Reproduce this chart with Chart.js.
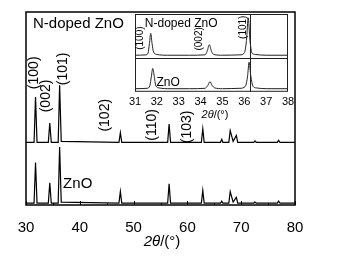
<!DOCTYPE html>
<html>
<head>
<meta charset="utf-8">
<script src="https://cdn.jsdelivr.net/npm/chart.js@4.4.1/dist/chart.umd.min.js"></script>
<style>
  html, body { margin: 0; padding: 0; background: #fff; }
  #wrap { position: relative; width: 337px; height: 259px; }
  #main { position: absolute; left: 0; top: 0; }
  #inset { position: absolute; left: 120px; top: 6px; }
</style>
</head>
<body>
<div id="wrap">
  <canvas id="main" width="337" height="259"></canvas>
  <canvas id="inset" width="185" height="118"></canvas>
</div>
<script>
// ---- main pattern: 2theta (deg) and offset intensities ----
var mainTheta = [30, 31.5, 31.77, 32.05, 34.15, 34.42, 34.7, 35.98, 36.25, 36.55,
  47.28, 47.54, 47.8, 56.33, 56.6, 56.87, 62.6, 62.86, 63.12, 66.15, 66.38, 66.6,
  67.7, 67.96, 68.5, 69.1, 69.35, 72.35, 72.56, 72.8, 76.7, 76.95, 77.2, 80];
var dopedMain = [32.5, 32.5, 56, 32.5, 32.5, 42.5, 32.5, 32.5, 62, 33,
  32.5, 37.5, 32.5, 32.5, 42, 32.5, 32.5, 39.5, 32.5, 32.5, 34, 32.5,
  32.5, 38.5, 33, 36, 32.5, 32.5, 33.2, 32.5, 32.5, 33.5, 32.5, 32.5];
var pureMain = [1, 1, 22, 1, 1, 11.5, 1, 1, 30, 1.5,
  1, 7, 1, 1, 11, 1, 1, 7.5, 1, 1, 2, 1,
  1, 7, 1.5, 4, 1, 1, 1.5, 1, 1, 2, 1, 1];
var mainTicks = [30, 40, 50, 60, 70, 80];

// ---- inset (31-38 deg) ----
var dopedInsetTheta = [31, 31.5, 31.6, 31.66, 31.72, 31.78, 31.85, 32.0, 32.5, 33.5,
  34.2, 34.3, 34.4, 34.5, 34.6, 35.0, 35.8, 36.0, 36.1, 36.18, 36.26, 36.35, 36.5, 37, 38];
var dopedInset = [47, 47.5, 50, 62, 75, 62, 51, 48, 47, 47,
  47.5, 52, 60.5, 52, 48, 47, 47.5, 50, 66, 95, 66, 50, 48, 47, 47];
var pureInsetTheta = [31, 31.55, 31.68, 31.75, 31.81, 31.88, 31.95, 32.1, 32.6, 33.5,
  34.2, 34.33, 34.43, 34.53, 34.65, 35.0, 35.8, 36.05, 36.15, 36.22, 36.3, 36.4, 36.55, 37, 38];
var pureInset = [4, 4.5, 8, 20, 30, 20, 8, 5, 4, 4,
  4.5, 8, 13, 8, 5, 4, 4.5, 7, 20, 38, 20, 7, 5, 4, 4];
var insetTicks = [31, 32, 33, 34, 35, 36, 37, 38];
var insetRefLine = 36.26;
var insetSplit = 43.4;

var FONT = "'Liberation Sans', Arial, sans-serif";

function pts(xs, ys) {
  return xs.map(function (x, i) { return { x: x, y: ys[i] }; });
}

function drawAxisTitle(ctx, cx, y, size) {
  var a = "2\u03B8", b = "/(\u00B0)";
  ctx.font = "italic " + size + "px " + FONT;
  var wa = ctx.measureText(a).width;
  ctx.font = size + "px " + FONT;
  var wb = ctx.measureText(b).width;
  var x0 = cx - (wa + wb) / 2;
  ctx.textAlign = "left";
  ctx.textBaseline = "middle";
  ctx.font = "italic " + size + "px " + FONT;
  ctx.fillText(a, x0, y);
  ctx.font = size + "px " + FONT;
  ctx.fillText(b, x0 + wa, y);
}

function vText(ctx, text, x, y) {
  ctx.save();
  ctx.translate(x, y);
  ctx.rotate(-Math.PI / 2);
  ctx.textAlign = "center";
  ctx.textBaseline = "middle";
  ctx.fillText(text, 0, 0);
  ctx.restore();
}

// Frame, inward ticks, labels for main chart
var mainDecor = {
  id: "mainDecor",
  afterDatasetsDraw: function (chart) {
    var ctx = chart.ctx, a = chart.chartArea;
    var xs = chart.scales.x, ys = chart.scales.y;
    ctx.save();
    ctx.strokeStyle = "#000";
    ctx.lineWidth = 1.5;
    ctx.strokeRect(a.left, a.top, a.right - a.left, a.bottom - a.top);
    ctx.lineWidth = 1;
    for (var v = 30; v <= 80; v += 5) {
      var px = Math.round(xs.getPixelForValue(v)) + 0.5;
      var len = v % 10 === 0 ? 4 : 2;
      ctx.beginPath();
      ctx.moveTo(px, a.bottom);
      ctx.lineTo(px, a.bottom - len);
      ctx.stroke();
    }
    ctx.fillStyle = "#000";
    ctx.font = "15px " + FONT;
    ctx.textAlign = "left";
    ctx.textBaseline = "middle";
    ctx.fillText("N-doped ZnO", xs.getPixelForValue(31.3), ys.getPixelForValue(94));
    ctx.fillText("ZnO", xs.getPixelForValue(36.9), ys.getPixelForValue(11));
    ctx.font = "14px " + FONT;
    var labels = [["(100)", 31.5, 68.5], ["(002)", 33.7, 56.5], ["(101)", 36.9, 70.5],
      ["(102)", 44.7, 46.5], ["(110)", 53.4, 41.5], ["(103)", 59.9, 40.5]];
    labels.forEach(function (l) {
      vText(ctx, l[0], xs.getPixelForValue(l[1]), ys.getPixelForValue(l[2]));
    });
    drawAxisTitle(ctx, 162, 242, 15);
    ctx.restore();
  }
};

var insetDecor = {
  id: "insetDecor",
  beforeDatasetsDraw: function (chart) {
    var ctx = chart.ctx, a = chart.chartArea;
    ctx.save();
    ctx.fillStyle = "#fff";
    ctx.fillRect(a.left, a.top, a.right - a.left, a.bottom - a.top);
    ctx.restore();
  },
  afterDatasetsDraw: function (chart) {
    var ctx = chart.ctx, a = chart.chartArea;
    var xs = chart.scales.x, ys = chart.scales.y;
    ctx.save();
    ctx.strokeStyle = "#222";
    ctx.lineWidth = 1;
    ctx.strokeRect(a.left + 0.5, a.top + 0.5, a.right - a.left - 1, a.bottom - a.top - 1);
    var sy = Math.round(ys.getPixelForValue(insetSplit)) + 0.5;
    ctx.beginPath();
    ctx.moveTo(a.left, sy);
    ctx.lineTo(a.right, sy);
    var rx = Math.round(xs.getPixelForValue(insetRefLine)) + 0.5;
    ctx.moveTo(rx, a.top);
    ctx.lineTo(rx, a.bottom);
    ctx.stroke();
    ctx.fillStyle = "#000";
    ctx.font = "12px " + FONT;
    ctx.textAlign = "left";
    ctx.textBaseline = "middle";
    ctx.fillText("N-doped ZnO", xs.getPixelForValue(31.45), ys.getPixelForValue(88));
    ctx.fillText("ZnO", xs.getPixelForValue(31.98), ys.getPixelForValue(12));
    ctx.font = "10px " + FONT;
    vText(ctx, "(100)", xs.getPixelForValue(31.22), ys.getPixelForValue(69));
    vText(ctx, "(002)", xs.getPixelForValue(33.93), ys.getPixelForValue(68));
    vText(ctx, "(101)", xs.getPixelForValue(35.93), ys.getPixelForValue(83));
    drawAxisTitle(ctx, 95, 109, 11);
    ctx.restore();
  }
};

new Chart(document.getElementById("main"), {
  type: "line",
  data: {
    datasets: [
      { data: pts(mainTheta, dopedMain), borderColor: "#000", borderWidth: 1.2, pointRadius: 0, tension: 0 },
      { data: pts(mainTheta, pureMain), borderColor: "#000", borderWidth: 1.2, pointRadius: 0, tension: 0 }
    ]
  },
  options: {
    responsive: false,
    animation: false,
    events: [],
    layout: { padding: { left: 26, right: 42, top: 12, bottom: 8 } },
    plugins: { legend: { display: false }, tooltip: { enabled: false } },
    scales: {
      x: {
        type: "linear",
        min: 30,
        max: 80,
        afterBuildTicks: function (s) { s.ticks = mainTicks.map(function (v) { return { value: v }; }); },
        grid: { display: false, drawTicks: false },
        border: { display: false },
        ticks: { color: "#000", font: { family: FONT, size: 15 }, padding: 14, maxRotation: 0 }
      },
      y: { display: false, min: 0, max: 100 }
    }
  },
  plugins: [mainDecor]
});

new Chart(document.getElementById("inset"), {
  type: "line",
  data: {
    datasets: [
      { data: pts(dopedInsetTheta, dopedInset), borderColor: "#222", borderWidth: 1, pointRadius: 0, cubicInterpolationMode: "monotone" },
      { data: pts(pureInsetTheta, pureInset), borderColor: "#222", borderWidth: 1, pointRadius: 0, cubicInterpolationMode: "monotone" }
    ]
  },
  options: {
    responsive: false,
    animation: false,
    events: [],
    layout: { padding: { left: 15, right: 17, top: 8, bottom: 11 } },
    plugins: { legend: { display: false }, tooltip: { enabled: false } },
    scales: {
      x: {
        type: "linear",
        min: 31,
        max: 38,
        afterBuildTicks: function (s) { s.ticks = insetTicks.map(function (v) { return { value: v }; }); },
        grid: { display: false, drawTicks: false },
        border: { display: false },
        ticks: { color: "#000", font: { family: FONT, size: 11 }, padding: 4, maxRotation: 0 }
      },
      y: { display: false, min: 0, max: 100 }
    }
  },
  plugins: [insetDecor]
});
</script>
</body>
</html>
